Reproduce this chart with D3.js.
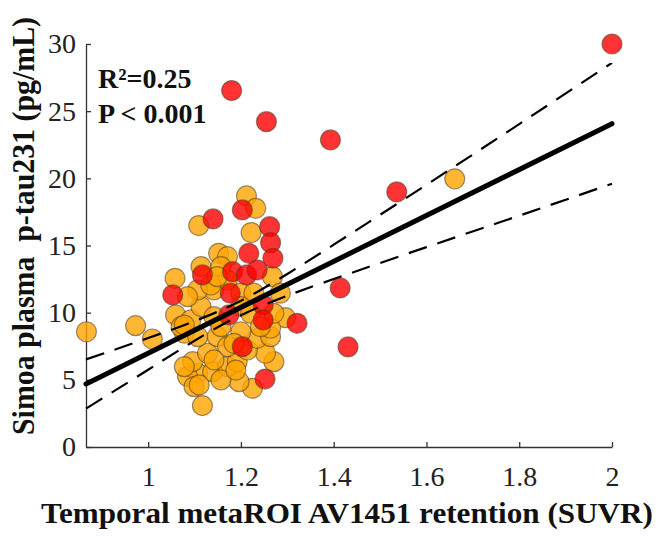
<!DOCTYPE html>
<html><head><meta charset="utf-8">
<script src="https://cdn.jsdelivr.net/npm/d3@7"></script>
<style>body{margin:0;background:#fff}svg{display:block}</style>
</head><body>
<svg id="c" width="660" height="537"></svg>
<script>
// x = temporal metaROI SUVR, y = plasma p-tau231
const orangeX = [0.867,0.973,1.009,1.109,1.212,1.232,1.222,1.152,1.171,1.058,1.268,1.059,1.296,1.107,1.117,1.225,1.196,1.271,1.253,1.085,1.099,1.139,1.171,1.192,1.096,1.128,1.078,1.107,1.149,1.171,1.214,1.235,1.264,1.200,1.092,1.114,1.142,1.142,1.171,1.107,1.085,1.200,1.228,1.200,1.221,1.114,1.157,1.264,1.242,1.071,1.157,1.078,1.142,1.185,1.157,1.271,1.285,1.135,1.149,1.078,1.110,1.189,1.661];
const orangeY = [8.58,9.03,8.04,16.48,18.69,17.77,15.96,14.42,14.17,12.56,12.68,9.83,9.63,5.49,3.08,4.37,4.86,6.35,6.98,5.24,4.49,5.61,5.98,6.35,6.35,6.98,8.47,8.21,8.21,7.47,7.22,8.09,8.21,8.58,9.46,10.45,9.70,11.69,12.43,11.69,11.19,11.45,11.45,10.45,9.95,13.43,13.43,8.84,8.96,8.96,8.96,5.98,6.48,7.72,4.99,9.95,11.45,12.06,12.68,9.08,4.62,5.73,19.96];
const redX = [1.053,1.140,1.203,1.262,1.264,1.269,1.217,1.117,1.182,1.212,1.235,1.177,1.174,1.248,1.248,1.203,1.252,1.321,1.180,1.255,1.393,2.000,1.536,1.414,1.431];
const redY = [11.32,16.98,17.65,16.40,15.21,14.05,14.42,12.81,13.05,12.81,13.18,11.45,9.83,10.57,9.46,7.47,5.06,9.21,26.53,24.22,22.86,30.00,18.99,11.84,7.45];
const fitX = [0.866, 2.0];
const fitY = [4.69, 24.07];
const ciX = [0.866,1.0,1.1,1.2,1.3,1.4,1.6,1.8,2.0];
const ciUpper = [6.52,8.11,9.37,10.89,12.88,15.06,19.52,24.04,28.60];
const ciLower = [2.86,5.75,7.91,9.81,11.26,12.50,14.88,17.22,19.60];
const xTicks = [1,1.2,1.4,1.6,1.8,2];
const yTicks = [0,5,10,15,20,25,30];
const xTickLabels = ["1","1.2","1.4","1.6","1.8","2"];
const annotation = ["R²=0.25","P < 0.001"];

const svg = d3.select("#c");
const x = d3.scaleLinear().domain([0.866,2]).range([86,612]);
const y = d3.scaleLinear().domain([0,30]).range([447,44]);
const serif = "'Liberation Serif','Times New Roman',serif";
const axCol = "#333";

// axes
const gx = svg.append("g").attr("transform","translate(0,447)")
  .call(d3.axisBottom(x).tickValues(xTicks).tickSize(-5).tickSizeOuter(0).tickPadding(14).tickFormat((d,i)=>xTickLabels[i]));
const gy = svg.append("g").attr("transform","translate(86,0)")
  .call(d3.axisLeft(y).tickValues(yTicks).tickSize(-5).tickSizeOuter(0).tickPadding(10));
[gx,gy].forEach(g=>{
  g.select(".domain").attr("stroke",axCol).attr("stroke-width",1.3);
  g.selectAll(".tick line").attr("stroke",axCol).attr("stroke-width",1.3);
  g.selectAll(".tick text").attr("font-family",serif).attr("font-size",28).attr("fill","#222");
});
gx.selectAll(".tick text").attr("dy","0.9em");

// points
function dots(xs, ys, col){
  svg.append("g").selectAll("circle").data(xs.map((v,i)=>[v,ys[i]])).join("circle")
    .attr("cx",d=>x(d[0])).attr("cy",d=>y(d[1])).attr("r",10)
    .attr("fill",col).attr("fill-opacity",0.8)
    .attr("stroke","#4a3a20").attr("stroke-opacity",0.55).attr("stroke-width",1.2);
}
dots(orangeX, orangeY, "#FFA500");
dots(redX, redY, "#FF0000");

// fit and CI
const line = d3.line().x(d=>x(d[0])).y(d=>y(d[1]));
const ciLine = d3.line().x(d=>x(d[0])).y(d=>y(d[1])).curve(d3.curveNatural);
svg.append("path").attr("d",ciLine(ciX.map((v,i)=>[v,ciUpper[i]])))
  .attr("fill","none").attr("stroke","#000").attr("stroke-width",2.2).attr("stroke-dasharray","19,11");
svg.append("path").attr("d",ciLine(ciX.map((v,i)=>[v,ciLower[i]])))
  .attr("fill","none").attr("stroke","#000").attr("stroke-width",2.2).attr("stroke-dasharray","19,11");
svg.append("path").attr("d",line(fitX.map((v,i)=>[v,fitY[i]])))
  .attr("fill","none").attr("stroke","#000").attr("stroke-width",5).attr("stroke-linecap","round");

// annotation
annotation.forEach((t,i)=>{
  svg.append("text").attr("x",98).attr("y",88+i*35).attr("font-family",serif)
    .attr("font-weight","bold").attr("font-size",28).attr("fill","#111").text(t);
});

// axis labels
svg.append("text").attr("x",347).attr("y",523).attr("text-anchor","middle")
  .attr("font-family",serif).attr("font-weight","bold").attr("font-size",30).attr("fill","#111")
  .attr("textLength",612).attr("lengthAdjust","spacingAndGlyphs")
  .text("Temporal metaROI AV1451 retention (SUVR)");
svg.append("text").attr("transform","translate(34,226) rotate(-90)").attr("text-anchor","middle")
  .attr("font-family",serif).attr("font-weight","bold").attr("font-size",31).attr("fill","#111")
  .attr("textLength",418).attr("lengthAdjust","spacingAndGlyphs")
  .attr("xml:space","preserve")
  .text("Simoa plasma  p-tau231 (pg/mL)");
</script>
</body></html>
